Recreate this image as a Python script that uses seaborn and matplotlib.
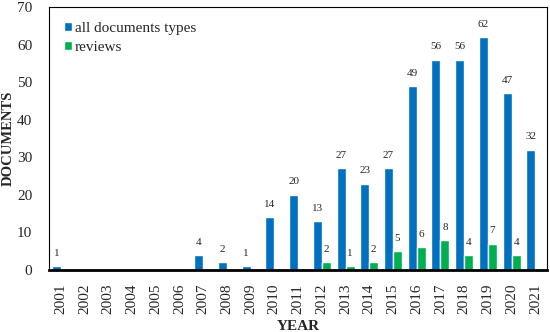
import pandas as pd
import numpy as np
import seaborn as sns
import matplotlib.pyplot as plt

years = [str(y) for y in range(2001, 2022)]
all_docs = [1, 0, 0, 0, 0, 0, 4, 2, 1, 14, 20, 13, 27, 23, 27, 49, 56, 56, 62, 47, 32]
reviews = [0, 0, 0, 0, 0, 0, 0, 0, 0, 0, 0, 2, 1, 2, 5, 6, 8, 4, 7, 4, 0]

df = pd.DataFrame({'year': years * 2,
                   'count': all_docs + reviews,
                   'type': ['all documents types'] * len(years) + ['reviews'] * len(years)})

sns.set_theme(style="white")
plt.rcParams['font.family'] = ['Liberation Serif', 'DejaVu Serif']

fig, ax = plt.subplots(figsize=(5.5, 3.32), dpi=100)
sns.barplot(data=df, x='year', y='count', hue='type', palette=['#0070C0', '#00B050'],
            width=0.76, gap=0, dodge=True, ax=ax, saturation=1)

for cont in ax.containers:
    labels = [str(int(v)) if v > 0 else '' for v in cont.datavalues]
    ax.bar_label(cont, labels=labels, padding=6, fontsize=8)

ax.set_ylim(0, 70)
ax.set_yticks(range(0, 71, 10))
ax.set_xlim(-0.5, len(years) - 0.5)
ax.tick_params(axis='x', rotation=90, labelsize=11, pad=4)
ax.tick_params(axis='y', labelsize=11, pad=6)
ax.set_xlabel('YEAR', fontweight='bold', fontsize=11, labelpad=4)
ax.set_ylabel('DOCUMENTS', fontweight='bold', fontsize=10.5)
ax.yaxis.set_label_coords(-0.068, 0.5)
for s in ax.spines.values():
    s.set_color('black')
    s.set_linewidth(0.8)
ax.spines['bottom'].set_linewidth(2)

ax.legend(loc='upper left', frameon=False, fontsize=11, handlelength=0.5, handleheight=0.5,
          handletextpad=0.2, labelspacing=0.35, borderaxespad=0.6)

plt.subplots_adjust(left=0.089, right=0.995, top=0.979, bottom=0.187)
plt.savefig('out.png', dpi=100)
